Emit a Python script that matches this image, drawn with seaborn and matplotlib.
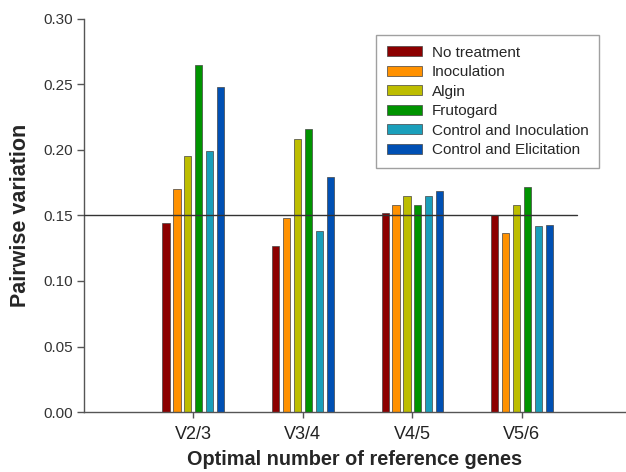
import matplotlib
matplotlib.use("Agg")
import matplotlib.pyplot as plt
import seaborn as sns
import pandas as pd

categories = ["V2/3", "V3/4", "V4/5", "V5/6"]
treatments = ["No treatment", "Inoculation", "Algin", "Frutogard",
              "Control and Inoculation", "Control and Elicitation"]
no_treatment = [0.144, 0.127, 0.152, 0.150]
inoculation = [0.170, 0.148, 0.158, 0.137]
algin = [0.195, 0.208, 0.165, 0.158]
frutogard = [0.265, 0.216, 0.158, 0.172]
control_inoc = [0.199, 0.138, 0.165, 0.142]
control_elic = [0.248, 0.179, 0.169, 0.143]
threshold = 0.15
colors = ["#8c0000", "#ff9100", "#bdbd00", "#009400", "#1a9fbb", "#0050b4"]

series = [no_treatment, inoculation, algin, frutogard, control_inoc, control_elic]
rows = []
for t, vals in zip(treatments, series):
    for c, v in zip(categories, vals):
        rows.append({"cat": c, "treatment": t, "value": v})
df = pd.DataFrame(rows)

sns.set_style("white")
plt.rcParams["font.family"] = ["Liberation Sans", "DejaVu Sans"]

fig = plt.figure(figsize=(6.26, 4.72), dpi=100)
ax = fig.add_axes([0.134, 0.127, 0.866, 0.833])

sns.barplot(data=df, x="cat", y="value", hue="treatment", order=categories,
            hue_order=treatments, palette=colors, saturation=1, width=0.6, gap=0.35,
            edgecolor="#444444", linewidth=0.5, ax=ax, legend=True)

ax.set_xlim(-1, 3.95)
ax.set_ylim(0, 0.30)
ax.set_yticks([0, 0.05, 0.10, 0.15, 0.20, 0.25, 0.30])
ax.set_yticklabels([f"{v:.2f}" for v in [0, 0.05, 0.10, 0.15, 0.20, 0.25, 0.30]])
ax.plot([-1, 3.5], [threshold, threshold], color="#333333", lw=1.0, zorder=5)

for s in ["top", "right"]:
    ax.spines[s].set_visible(False)
for s in ["left", "bottom"]:
    ax.spines[s].set_color("#555555")
    ax.spines[s].set_linewidth(1.0)

ax.tick_params(axis="y", direction="out", length=5, width=1, color="#555555",
               labelsize=11, labelcolor="#333333", left=True, pad=3)
ax.tick_params(axis="x", direction="out", length=4, width=1, color="#555555",
               labelsize=13, labelcolor="#222222", bottom=True, pad=6)

ax.set_xlabel("Optimal number of reference genes", fontsize=14.3, fontweight="bold", labelpad=5)
ax.set_ylabel("Pairwise variation", fontsize=15.5, fontweight="bold", labelpad=9)

leg = ax.legend(loc="upper left", bbox_to_anchor=(0.539, 0.959), fontsize=11,
                frameon=True, fancybox=False, edgecolor="#888888",
                handlelength=2.3, handleheight=0.65, labelspacing=0.36,
                borderpad=0.7, handletextpad=0.65, borderaxespad=0)
leg.get_frame().set_linewidth(1.0)

fig.savefig("out.png", dpi=100)
